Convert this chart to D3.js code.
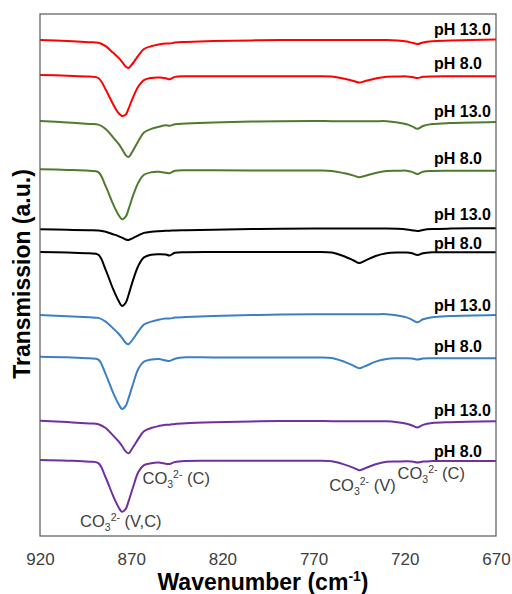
<!DOCTYPE html>
<html>
<head>
<meta charset="utf-8">
<script src="https://cdn.jsdelivr.net/npm/d3@7"></script>
<style>
  body { margin: 0; background: #fff; }
  svg { display: block; font-family: Arial, "Liberation Sans", sans-serif; }
  .trace { fill: none; stroke-width: 2; stroke-linejoin: round; }
  .x.axis text { font-size: 17px; fill: #404040; }
  .ph-label { font-size: 16px; font-weight: bold; fill: #000; }
  .band { font-size: 16.5px; fill: #404040; }
  .title { font-size: 23px; font-weight: bold; fill: #000; }
</style>
</head>
<body>
<div id="chart"></div>
<script>
// wavenumber grid shared by all spectra (cm-1)
const wavenumbers = [920, 905, 893, 888, 884, 880, 877, 875, 873, 871.5, 869, 866, 863, 859, 855, 851, 849, 846,
  840, 825, 800, 770, 760, 753, 748, 745, 742, 736, 730, 724, 719, 716, 713, 710, 705, 695, 670];

// stacked transmission spectra (a.u., already offset), top to bottom
const redPh13 = [496, 494.9, 493.8, 493.2, 489.8, 483.4, 478.4, 474.2, 469.4, 468, 473, 480.6, 487, 489.8, 491.5, 492.6, 492.4, 493.5,
  494, 494.9, 495.7, 496, 496, 496, 496, 496, 496, 496, 496, 495.4, 494.4, 493.2, 492, 493.6, 494.8, 495.4, 496.5];
const redPh8 = [461, 460.3, 459.4, 458, 446.5, 432.1, 423.1, 420, 421.5, 427.2, 438.7, 449.7, 455.9, 458, 458.4, 457.7, 456.7, 459.1,
  459.7, 459.7, 459.7, 459.7, 459.4, 457.2, 455, 453.4, 454.7, 457.5, 459.2, 459.5, 459.6, 459.1, 458, 459.2, 459.6, 459.7, 459.7];
const greenPh13 = [415, 413.6, 412.1, 411.4, 407.1, 398.8, 392.3, 386.9, 380.8, 379, 385.5, 395.2, 403.5, 407.1, 409.2, 410.7, 410.2, 411.8,
  412.5, 413.6, 414.6, 415, 414.8, 414.8, 414.8, 414.8, 414.8, 414.8, 414.8, 413.5, 411.7, 409.6, 407.2, 410, 411.9, 413, 414];
const greenPh8 = [366.7, 366.1, 365.2, 363.9, 349.8, 332.3, 321.3, 316.7, 319.3, 326.3, 340.3, 353.8, 361.2, 363.7, 364.2, 363.2, 362.7, 365.2,
  365.8, 365.7, 365.5, 365.4, 365.1, 362.7, 360.4, 358.7, 360, 363.1, 364.9, 365.2, 365.3, 364.1, 362, 364.3, 365.1, 365.3, 365.3];
const blackPh13 = [306.7, 306.2, 305.8, 305.5, 304.2, 301.8, 299.9, 298.3, 296.5, 296, 297.9, 300.7, 303.1, 304.2, 304.8, 305.2, 305.3, 305.6,
  305.8, 306.3, 307.1, 307.5, 307.6, 307.6, 307.6, 307.6, 307.6, 307.6, 307.6, 307.3, 306.6, 305.8, 305, 306.1, 306.9, 307.4, 307.8];
const blackPh8 = [284, 283.5, 282.7, 281.3, 266.2, 247.3, 235.4, 230, 233.2, 240.8, 255.9, 270.5, 278.6, 281.3, 281.8, 281.5, 280.5, 283.2,
  283.8, 284, 284, 284, 283.4, 279.5, 275.5, 273, 275.2, 280, 282.7, 283.5, 283.5, 282.7, 281, 282.8, 283.7, 283.8, 283.8];
const bluePh13 = [221, 219.8, 218.7, 218.1, 214.4, 207.8, 202.5, 198.2, 193.2, 191.8, 197, 204.8, 211.5, 214.4, 216.3, 217.5, 217.4, 218.4,
  219, 220, 221.1, 221.7, 221.8, 221.8, 221.8, 221.8, 221.8, 221.8, 221.8, 220.6, 218.6, 216.2, 213.8, 216.7, 218.8, 219.9, 221];
const bluePh8 = [179.3, 178.7, 177.7, 176.4, 161.8, 143.6, 132.2, 127, 130.1, 137.4, 152, 167.6, 174.3, 176.4, 177, 175.5, 175, 177.3,
  178.7, 178.6, 178.6, 178.5, 178, 174.1, 170.2, 167.7, 169.6, 174.4, 177.1, 177.7, 177.8, 177.5, 176.5, 177.5, 177.7, 177.7, 177.7];
const purplePh13 = [115.3, 113.9, 112.5, 111.8, 108, 100.6, 94.8, 90, 84.6, 82.7, 88.8, 97.4, 104.8, 108, 109.9, 111.2, 111.3, 112.1,
  112.8, 113.7, 114.7, 115, 114.8, 114.8, 114.8, 114.8, 114.8, 114.8, 114.8, 113.8, 112.3, 110.5, 108.5, 111.1, 112.9, 113.8, 114.7];
const purplePh8 = [76, 75.3, 74.3, 72.9, 58.5, 40.5, 29.1, 24.2, 27.1, 34.3, 48.7, 64.2, 70.9, 72.8, 73.4, 72.2, 72, 74,
  75, 75.2, 75.2, 75.2, 74.7, 71.4, 68.1, 65.8, 67.5, 71.8, 74.2, 74.5, 74.7, 74.5, 73.5, 74.5, 74.9, 75, 75];

const spectra = [redPh13, redPh8, greenPh13, greenPh8, blackPh13, blackPh8, bluePh13, bluePh8, purplePh13, purplePh8];
const phLabels = ["pH 13.0", "pH 8.0", "pH 13.0", "pH 8.0", "pH 13.0", "pH 8.0", "pH 13.0", "pH 8.0", "pH 13.0", "pH 8.0"];
const xTicks = [920, 870, 820, 770, 720, 670];

// carbonate band annotations (written under the bottom spectrum)
const bandWavenumbers = [875, 849, 745, 713];
const bandNames = ["(V,C)", "(C)", "(V)", "(C)"];

// styling / layout
const colors = ["#ff0000", "#ff0000", "#4f7a2f", "#4f7a2f", "#000000", "#000000", "#3b80c4", "#3b80c4", "#7030a0", "#7030a0"];
const labelLift = [4.5, 7.3, 5, 7, 8, 3.7, 4.5, 6.6, 5.3, 4.3];
const labelWavenumber = 704;
const bandDx = [-42, -27, -30, -20];
const bandDy = [15, 20, 21, 16.5];

const margin = { top: 14, right: 16, bottom: 58, left: 40 };
const width = 512 - margin.left - margin.right;
const height = 594 - margin.top - margin.bottom;

const svg = d3.select("#chart").append("svg")
    .attr("width", width + margin.left + margin.right)
    .attr("height", height + margin.top + margin.bottom);

const chart = svg.append("g")
    .attr("transform", "translate(" + margin.left + "," + margin.top + ")");

// wavenumber axis runs high to low
const x = d3.scaleLinear().domain([920, 670]).range([0, width]);
const y = d3.scaleLinear().domain([0, 522]).range([height, 0]);

const line = d3.line()
    .x((d, i) => x(wavenumbers[i]))
    .y(d => y(d))
    .curve(d3.curveCatmullRom.alpha(0.5));

// x axis: labels only, no tick marks
const xAxis = chart.append("g")
    .attr("class", "x axis")
    .attr("transform", "translate(0," + height + ")")
    .call(d3.axisBottom(x).tickValues(xTicks).tickSize(0).tickPadding(17).tickFormat(d3.format("d")));
xAxis.select(".domain").remove();
xAxis.selectAll("text").attr("font-family", null).attr("font-size", null);

// spectra
chart.selectAll(".trace")
    .data(spectra)
    .enter().append("path")
    .attr("class", "trace")
    .attr("d", line)
    .style("stroke", (d, i) => colors[i]);

// pH labels sit just above the right end of each trace
chart.selectAll(".ph-label")
    .data(spectra)
    .enter().append("text")
    .attr("class", "ph-label")
    .attr("x", x(labelWavenumber))
    .attr("y", (d, i) => y(d[d.length - 1]) - labelLift[i])
    .text((d, i) => phLabels[i]);

// CO3 2- band labels
const bottom = spectra[spectra.length - 1];
const bands = chart.selectAll(".band")
    .data(bandWavenumbers)
    .enter().append("text")
    .attr("class", "band")
    .attr("x", (d, i) => x(d) + bandDx[i])
    .attr("y", (d, i) => y(bottom[wavenumbers.indexOf(d)]) + bandDy[i]);
bands.append("tspan").text("CO");
bands.append("tspan").attr("font-size", "10.5px").attr("dy", 4).text("3");
bands.append("tspan").attr("font-size", "10.5px").attr("dy", -10).text("2-");
bands.append("tspan").attr("dy", 6).text((d, i) => " " + bandNames[i]);

// plot frame
chart.append("rect")
    .attr("width", width)
    .attr("height", height)
    .attr("fill", "none")
    .attr("stroke", "#595959")
    .attr("stroke-width", 1.2);

// axis titles
const xTitle = svg.append("text")
    .attr("class", "title")
    .attr("x", 263)
    .attr("y", 590)
    .attr("text-anchor", "middle");
xTitle.append("tspan").text("Wavenumber (cm");
xTitle.append("tspan").attr("font-size", "14px").attr("dy", -9).text("-1");
xTitle.append("tspan").attr("dy", 9).text(")");

svg.append("text")
    .attr("class", "title")
    .attr("transform", "translate(30,274) rotate(-90)")
    .attr("text-anchor", "middle")
    .text("Transmission (a.u.)");
</script>
</body>
</html>
